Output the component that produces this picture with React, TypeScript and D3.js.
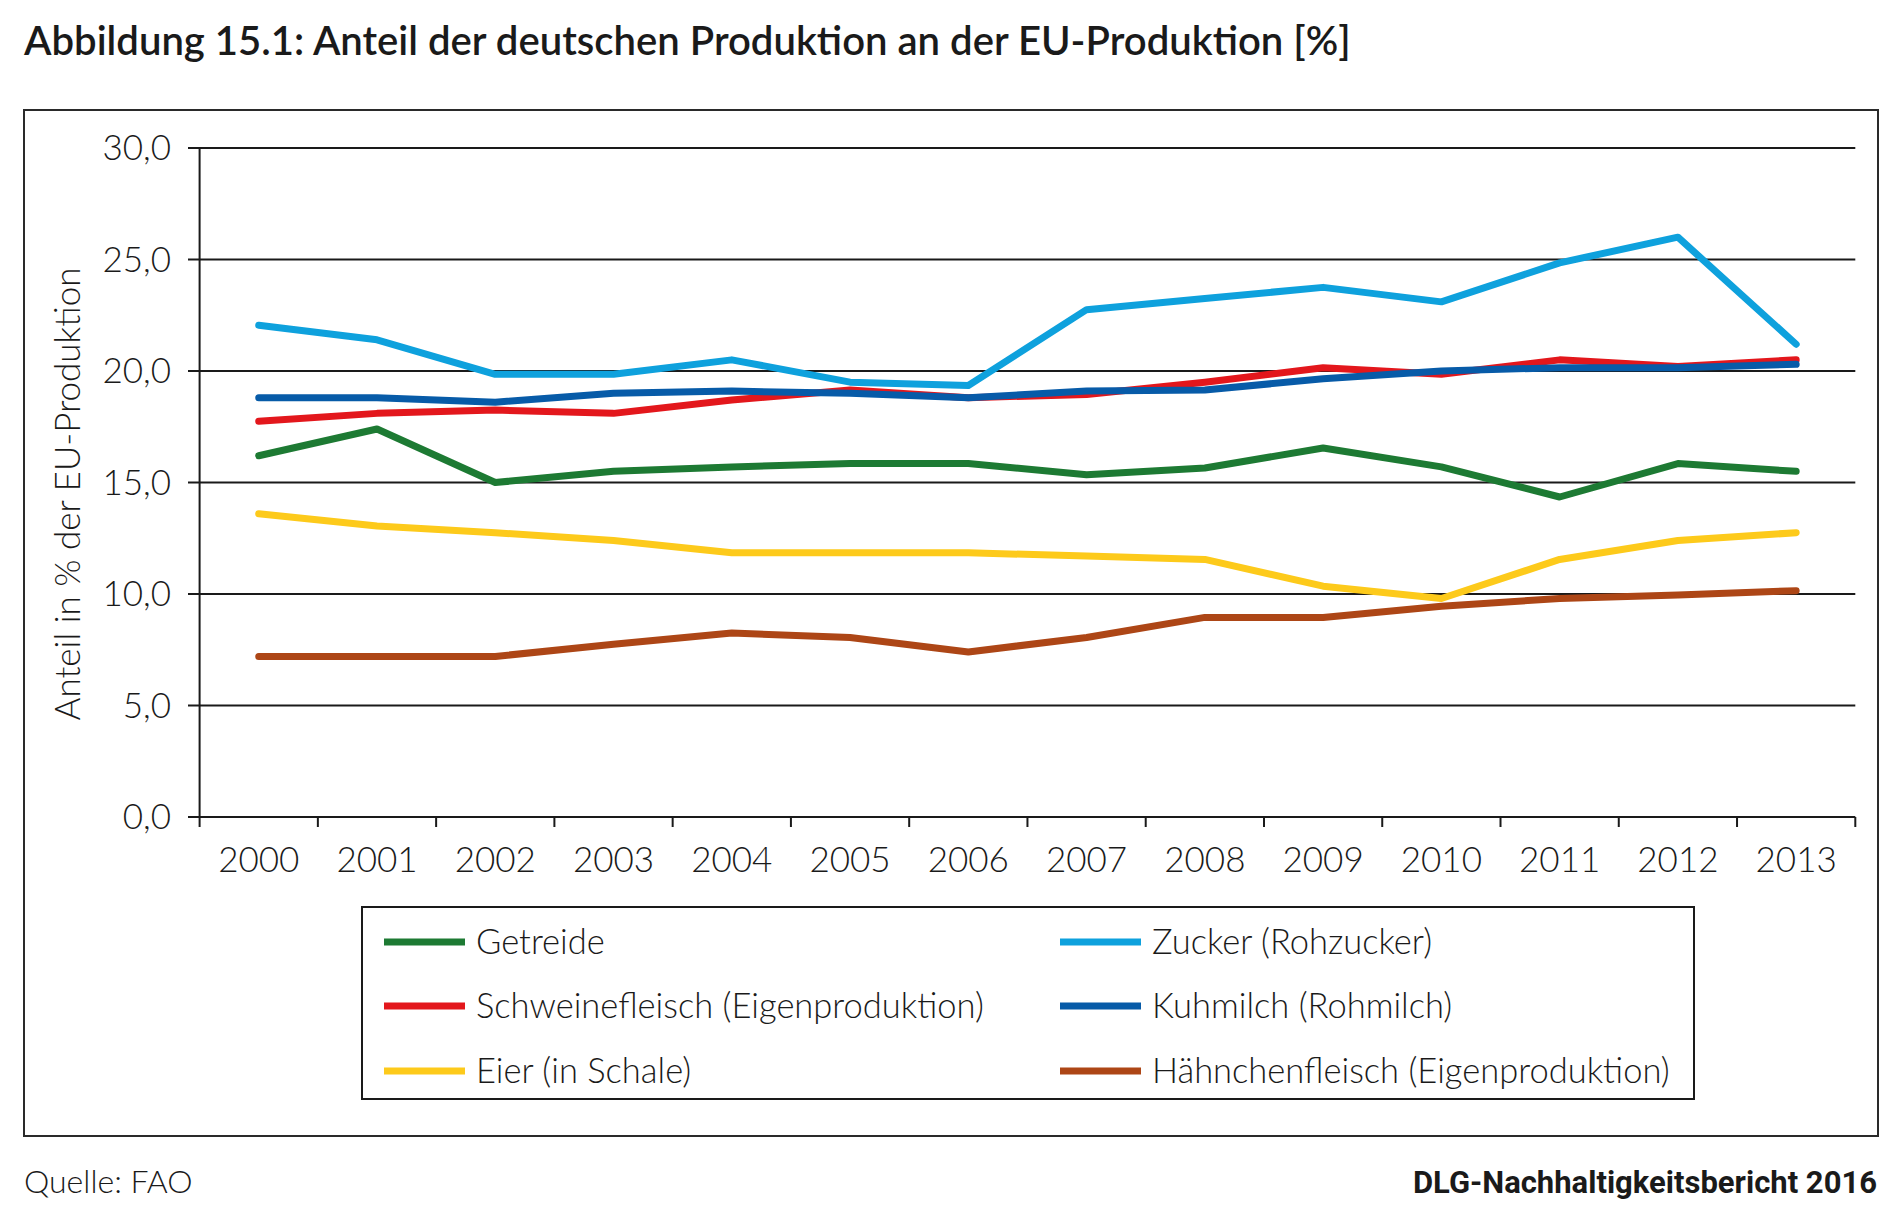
import React from "react";
import * as d3 from "d3";

const years = ["2000","2001","2002","2003","2004","2005","2006","2007","2008","2009","2010","2011","2012","2013"];
const yTicks = [0, 5, 10, 15, 20, 25, 30];

const getreide = [16.2, 17.4, 15.0, 15.5, 15.7, 15.85, 15.85, 15.35, 15.65, 16.55, 15.7, 14.35, 15.85, 15.5];
const schwein = [17.75, 18.1, 18.25, 18.1, 18.7, 19.15, 18.8, 18.95, 19.5, 20.15, 19.85, 20.5, 20.2, 20.5];
const eier = [13.6, 13.05, 12.75, 12.4, 11.85, 11.85, 11.85, 11.7, 11.55, 10.35, 9.8, 11.55, 12.4, 12.75];
const zucker = [22.05, 21.4, 19.85, 19.85, 20.5, 19.5, 19.35, 22.75, 23.25, 23.75, 23.1, 24.85, 26.0, 21.2];
const kuhmilch = [18.8, 18.8, 18.6, 19.0, 19.1, 19.0, 18.8, 19.1, 19.15, 19.65, 20.0, 20.15, 20.15, 20.3];
const haehnchen = [7.2, 7.2, 7.2, 7.75, 8.25, 8.05, 7.4, 8.05, 8.95, 8.95, 9.45, 9.8, 9.95, 10.15];

const seriesNames = ["Getreide", "Schweinefleisch (Eigenproduktion)", "Eier (in Schale)", "Zucker (Rohzucker)", "Kuhmilch (Rohmilch)", "Hähnchenfleisch (Eigenproduktion)"];
const seriesValues = [getreide, schwein, eier, zucker, kuhmilch, haehnchen];
const seriesColors = ["#1d7a33", "#e3171c", "#fdca1b", "#0ea1dd", "#075ba8", "#ad4616"];

const FONT = "Lato, 'Open Sans', sans-serif";

export default function App() {
  const W = 1900, H = 1225;
  const x = d3.scaleBand<string>().domain(years).range([199.6, 1855.3]).padding(0);
  const y = d3.scaleLinear().domain([0, 30]).range([817, 148]);
  const line = d3.line<number>()
    .x((_, i) => (x(years[i]) as number) + x.bandwidth() / 2)
    .y((d) => y(d));

  const legendRows = [942, 1006, 1071];
  const legendCols = [384, 1060];

  return (
    <svg width={W} height={H} style={{ position: "absolute", left: 0, top: 0, background: "#fff" }}>
      <rect x={0} y={0} width={W} height={H} fill="#fff" />
      <text x={24} y={55} fontFamily={FONT} fontWeight={600} fontSize={40.1} fill="#1a1a1a">
        Abbildung 15.1: Anteil der deutschen Produktion an der EU-Produktion [%]
      </text>
      <rect x={24} y={110} width={1854} height={1026} fill="none" stroke="#2a2a2a" strokeWidth={2} />

      {yTicks.map((t) => (
        <g key={t}>
          <line x1={188} x2={1855.3} y1={y(t)} y2={y(t)} stroke="#1a1a1a" strokeWidth={t === 0 ? 2.2 : 1.8} />
          <text x={171} y={y(t)} dy="0.35em" textAnchor="end" fontFamily={FONT} fontWeight={300} fontSize={35} fill="#1a1a1a">
            {t.toFixed(1).replace(".", ",")}
          </text>
        </g>
      ))}
      <line x1={199.6} x2={199.6} y1={148} y2={818} stroke="#1a1a1a" strokeWidth={2} />
      {[...years, "end"].map((yr, i) => {
        const xx = 199.6 + i * x.bandwidth();
        return <line key={yr} x1={xx} x2={xx} y1={817} y2={827} stroke="#1a1a1a" strokeWidth={2} />;
      })}
      {years.map((yr) => (
        <text key={yr} x={(x(yr) as number) + x.bandwidth() / 2} y={872} textAnchor="middle" fontFamily={FONT} fontWeight={300} fontSize={35} fill="#1a1a1a">
          {yr}
        </text>
      ))}
      <text transform="translate(80,494) rotate(-90)" textAnchor="middle" fontFamily={FONT} fontWeight={300} fontSize={35} fill="#1a1a1a">
        Anteil in % der EU-Produktion
      </text>

      {seriesValues.map((vals, i) => (
        <path key={i} d={line(vals) as string} fill="none" stroke={seriesColors[i]} strokeWidth={7} strokeLinejoin="round" strokeLinecap="round" />
      ))}

      <rect x={362} y={907} width={1332} height={192} fill="none" stroke="#1a1a1a" strokeWidth={2} />
      {seriesNames.map((name, i) => {
        const col = Math.floor(i / 3);
        const row = i % 3;
        const lx = legendCols[col];
        const ly = legendRows[row];
        return (
          <g key={name}>
            <line x1={lx} x2={lx + 81} y1={ly} y2={ly} stroke={seriesColors[i]} strokeWidth={7} />
            <text x={lx + 92} y={ly} dy="0.35em" fontFamily={FONT} fontWeight={300} fontSize={34.5} fill="#1a1a1a">{name}</text>
          </g>
        );
      })}

      <text x={24} y={1193} fontFamily={FONT} fontWeight={300} fontSize={32} fill="#1a1a1a">Quelle: FAO</text>
      <text x={1877} y={1193} textAnchor="end" fontFamily="Roboto, sans-serif" fontWeight={700} fontSize={31} fill="#1a1a1a">
        DLG-Nachhaltigkeitsbericht 2016
      </text>
    </svg>
  );
}
